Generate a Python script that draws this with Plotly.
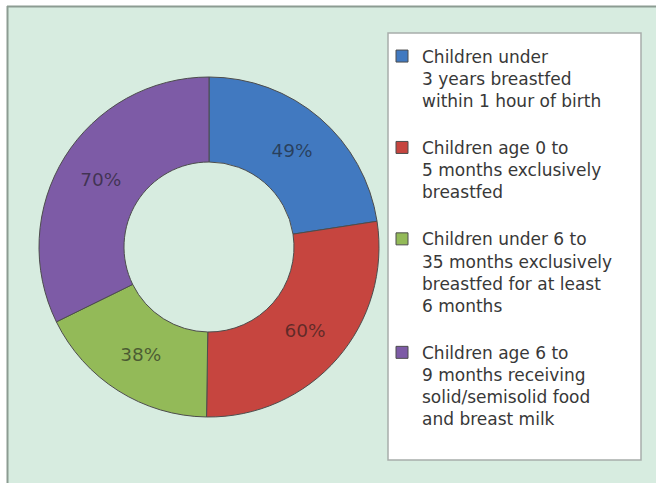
import plotly.graph_objects as go

W, H = 656, 485

categories = [
    "Children under<br>3 years breastfed<br>within 1 hour of birth",
    "Children age 0 to<br>5 months exclusively<br>breastfed",
    "Children under 6 to<br>35 months exclusively<br>breastfed for at least<br>6 months",
    "Children age 6 to<br>9 months receiving<br>solid/semisolid food<br>and breast milk",
]
values = [49, 60, 38, 70]
colors = ["#4179C0", "#C6453F", "#93BA58", "#7D5BA6"]

def px_x(p):
    return p / W

def px_y(p):
    return 1 - p / H

# add a blank line after each entry to reproduce the spacing between legend entries
legend_labels = [c + "<br> " for c in categories]

fig = go.Figure()
fig.add_trace(go.Pie(
    labels=legend_labels,
    values=values,
    sort=False,
    direction="clockwise",
    rotation=0,
    hole=0.5,
    marker=dict(colors=colors, line=dict(color="#4d4d4d", width=1)),
    texttemplate="%{value}%",
    textposition="inside",
    insidetextorientation="horizontal",
    textfont=dict(family="DejaVu Sans", size=18.5, color="rgba(25,25,25,0.6)"),
    domain=dict(x=[px_x(38), px_x(380)], y=[px_y(417), px_y(77)]),
    hoverinfo="label+value",
))

shapes = [
    # panel background
    dict(type="rect", xref="paper", yref="paper",
         x0=px_x(7), x1=px_x(656), y0=px_y(483), y1=px_y(6),
         fillcolor="#D7ECE0", line=dict(width=0), layer="below"),
    # top and left frame lines
    dict(type="line", xref="paper", yref="paper",
         x0=px_x(7), x1=px_x(656), y0=px_y(6.5), y1=px_y(6.5),
         line=dict(color="#8C9C92", width=2), layer="below"),
    dict(type="line", xref="paper", yref="paper",
         x0=px_x(7.5), x1=px_x(7.5), y0=px_y(483), y1=px_y(6),
         line=dict(color="#8C9C92", width=2), layer="below"),
    # legend box
    dict(type="rect", xref="paper", yref="paper",
         x0=px_x(388), x1=px_x(641), y0=px_y(460), y1=px_y(33),
         fillcolor="#FFFFFF", line=dict(color="#A8ADAA", width=1.5), layer="below"),
]

fig.update_layout(
    width=W, height=H,
    margin=dict(l=0, r=0, t=0, b=0),
    paper_bgcolor="#FFFFFF",
    plot_bgcolor="#FFFFFF",
    shapes=shapes,
    showlegend=True,
    legend=dict(
        x=px_x(382), y=px_y(38.5), xanchor="left", yanchor="top",
        bgcolor="rgba(0,0,0,0)", borderwidth=0,
        font=dict(family="DejaVu Sans", size=17, color="#383838"),
        valign="top", itemwidth=30,
        traceorder="normal",
    ),
)

fig.write_html("out.html", config={"displayModeBar": False},
               post_script="document.body.style.margin='0px';")
